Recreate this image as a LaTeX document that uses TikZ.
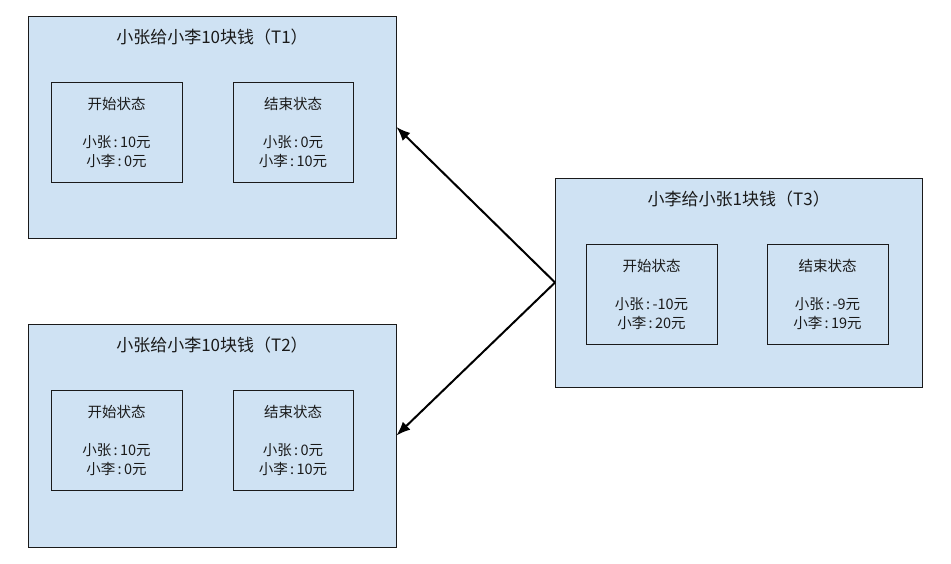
\documentclass[tikz,border=0pt]{standalone}
\usepackage{fontspec}
\setmainfont{Noto Sans CJK SC}
\usetikzlibrary{arrows.meta}
\definecolor{paper}{HTML}{CFE2F3}
\definecolor{ink}{HTML}{1A1A1A}

\begin{document}
\begin{tikzpicture}[x=1pt,y=-1pt,
    txbox/.style={draw=ink,fill=paper,line width=0.9pt,inner sep=0pt},
    statebox/.style={draw=ink,line width=0.9pt,minimum height=100pt,inner sep=0pt,
      align=center,font=\fontsize{14.5}{19}\selectfont,text=ink},
    txtitle/.style={font=\fontsize{17}{20}\selectfont,text=ink,inner sep=0pt},
    flow/.style={draw=black,line width=2pt,-{Latex[length=14pt,width=11pt]}}]
    \useasboundingbox (0,0) rectangle (951,563);

    % the three transactions: name / centre / size / title / box offsets / balances
    \foreach \n/\cx/\cy/\w/\h/\tlab/\sx/\ex/\ew/\sa/\sb/\ea/\eb in {
        t1/212/127/368/222/{小张给小李10块钱（T1）}/23/205/120/10/0/0/10,
        t2/212/435.5/368/223/{小张给小李10块钱（T2）}/23/205/120/10/0/0/10,
        t3/738.75/282.5/366.5/209/{小李给小张1块钱（T3）}/30.5/211.5/121/-10/20/-9/19}{
      \node[txbox,minimum width=\w,minimum height=\h] (\n) at (\cx,\cy) {};
      \node[txtitle] (\n-title) at ([yshift=-21]\n.north) {\tlab};
      \node[statebox,minimum width=131pt,anchor=north west] (\n-start)
        at ([xshift=\sx,yshift=-66]\n.north west)
        {开始状态\\[19pt]小张\,:\,\sa 元\\小李\,:\,\sb 元};
      \node[statebox,minimum width=\ew,anchor=north west] (\n-end)
        at ([xshift=\ex,yshift=-66]\n.north west)
        {结束状态\\[19pt]小张\,:\,\ea 元\\小李\,:\,\eb 元};}

    % T3 reads what the other two wrote
    \draw[flow] (t3.west) -- (t1.east);
    \draw[flow] (t3.west) -- (t2.east);
  \end{tikzpicture}
\end{document}
